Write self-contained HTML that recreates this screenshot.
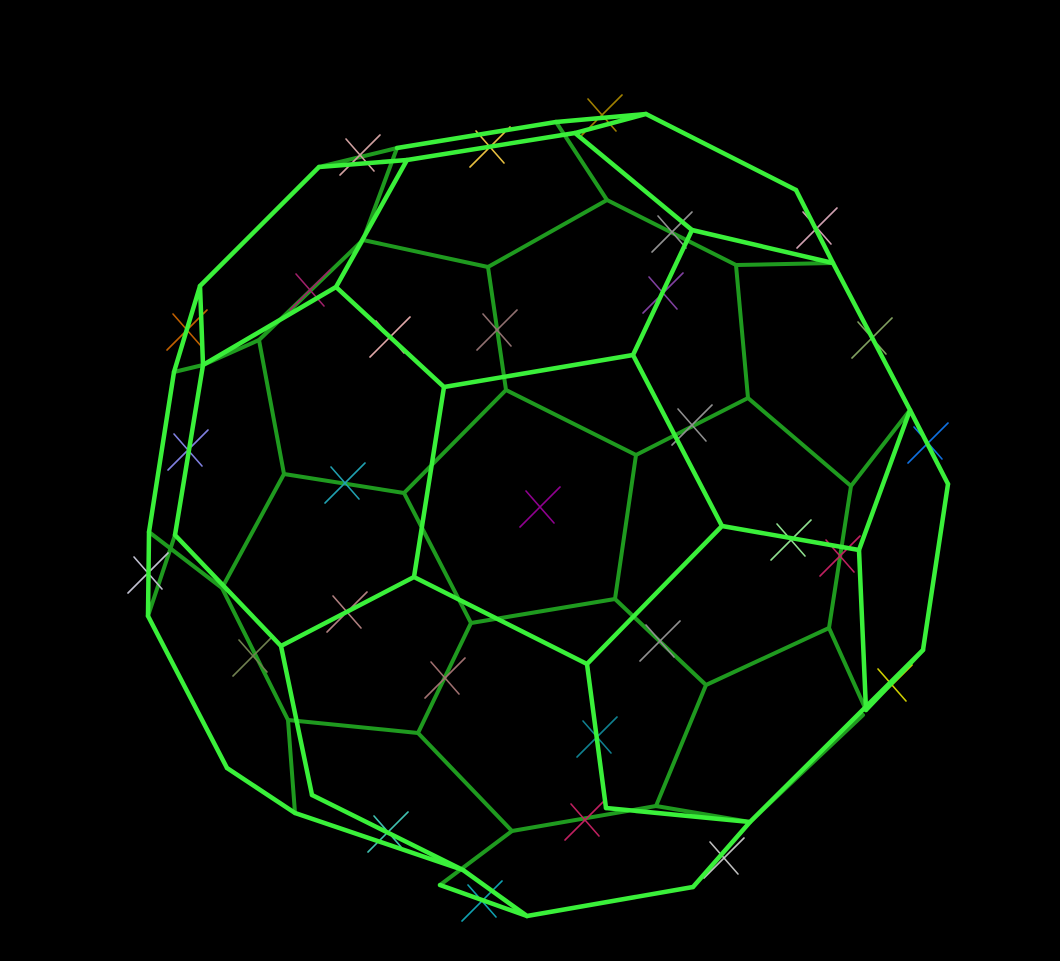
<!DOCTYPE html>
<html><head><meta charset="utf-8"><style>html,body{margin:0;background:#000;width:1060px;height:961px;overflow:hidden}</style></head>
<body>
<svg id="c" width="1060" height="961" viewBox="0 0 1060 961" xmlns="http://www.w3.org/2000/svg"></svg>
<script>
const backEdges=[[363,240,488,267],[488,267,607,200],[607,200,736,265],[736,265,748,398],[748,398,851,486],[851,486,910,410],[363,240,397,148],[363,240,336,287],[488,267,506,390],[506,390,636,455],[636,455,748,398],[506,390,404,493],[404,493,284,474],[284,474,259,340],[259,340,203,365],[259,340,363,240],[404,493,471,623],[471,623,615,599],[615,599,636,455],[284,474,222,588],[222,588,288,720],[288,720,418,733],[418,733,471,623],[615,599,706,685],[706,685,829,628],[829,628,851,486],[706,685,656,806],[418,733,512,831],[512,831,656,806],[288,720,295,813],[222,588,149,532],[829,628,866,710],[512,831,440,885],[607,200,556,122],[736,265,833,263],[319,167,397,148],[174,372,203,365],[863,715,750,822],[656,806,750,822],[227,768,295,813],[148,616,175,535]];
const frontEdges=[[319,167,407,160],[407,160,575,133],[397,148,556,122],[556,122,646,114],[575,133,646,114],[646,114,796,190],[796,190,833,263],[833,263,910,410],[910,410,948,484],[948,484,923,650],[923,650,750,822],[750,822,693,887],[693,887,527,916],[527,916,440,885],[295,813,463,870],[463,870,527,916],[227,768,295,813],[148,616,227,768],[149,532,148,616],[149,532,174,372],[174,372,200,286],[200,286,319,167],[200,286,203,365],[203,365,175,535],[175,535,281,646],[281,646,312,795],[312,795,463,870],[281,646,414,577],[414,577,444,387],[444,387,336,287],[336,287,407,160],[444,387,633,355],[633,355,692,230],[692,230,575,133],[692,230,833,263],[633,355,722,526],[722,526,859,550],[859,550,910,410],[859,550,866,710],[722,526,587,664],[587,664,414,577],[587,664,606,808],[606,808,750,822],[866,710,923,650],[336,287,203,365]];
const markerX=[360,490,602,310,187,390,497,672,817,663,872,188,345,540,692,928,791,840,148,347,253,445,660,892,597,388,585,724,482];
const markerY=[155,147,115,290,330,337,330,232,228,293,338,450,483,507,425,443,540,556,573,612,656,678,641,685,737,832,820,858,901];
const markerColor=["#d0a0a0","#e8c040","#a08000","#a0206a","#c06000","#e0a8a8","#907070","#909090","#d0a0b0","#8040a0","#80a060","#8080e0","#20a0b0","#900090","#909090","#1070e0","#90e090","#c02060","#c0c0d0","#b08080","#708050","#a07070","#909090","#d0d000","#108090","#40c0b0","#c02060","#c0c0c0","#10a0b0"];
const svg=document.getElementById('c');const NS='http://www.w3.org/2000/svg';
function line(x1,y1,x2,y2,col,w){const l=document.createElementNS(NS,'line');l.setAttribute('x1',x1);l.setAttribute('y1',y1);l.setAttribute('x2',x2);l.setAttribute('y2',y2);l.setAttribute('stroke',col);l.setAttribute('stroke-width',w);l.setAttribute('stroke-linecap','round');svg.appendChild(l);return l;}
backEdges.forEach(e=>{const l=line(e[0],e[1],e[2],e[3],'#1f9a1f',4);

});
markerX.forEach((x,i)=>{const y=markerY[i],c=markerColor[i];
const a=line(x-20,y+20,x+20,y-20,c,1.6);


const b=line(x-14,y-16,x+14,y+16,c,1.6);

});
frontEdges.forEach(e=>{const l=line(e[0],e[1],e[2],e[3],'#3af03a',4.5);

});
</script>
</body></html>
